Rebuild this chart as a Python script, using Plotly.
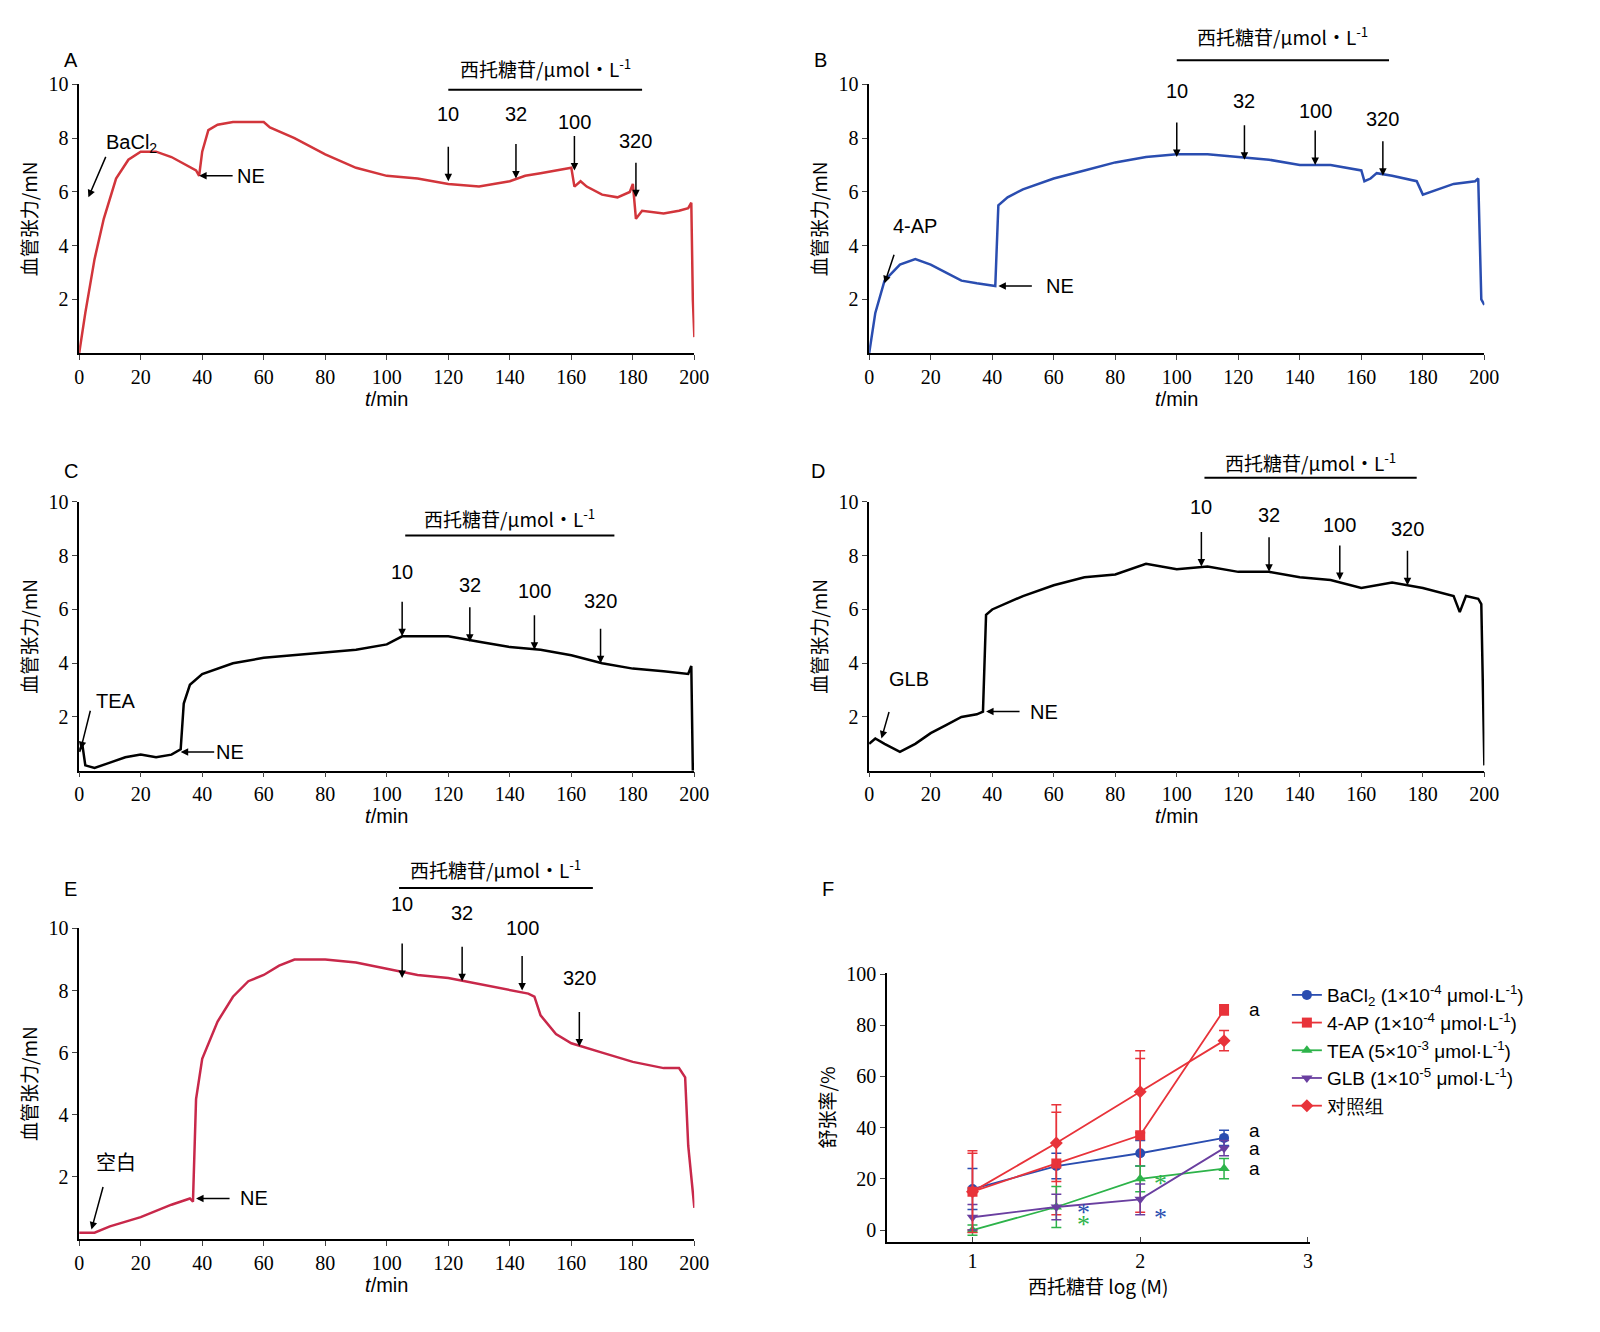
import plotly.graph_objects as go

W, H = 1600, 1332
# ---- data ----
tA = [0,2,5,8,12,16,20,25,30,35,38,39,40,42,45,50,55,60,62,70,80,90,100,110,120,130,140,145,150,155,160,161,163,165,170,175,179,180,181,183,190,195,198,199,199.5,200]
yA = [0,1.5,3.5,5,6.5,7.2,7.5,7.5,7.3,7.0,6.8,6.6,7.5,8.3,8.5,8.6,8.6,8.6,8.4,8.0,7.4,6.9,6.6,6.5,6.3,6.2,6.4,6.6,6.7,6.8,6.9,6.2,6.4,6.2,5.9,5.8,6.0,6.3,5.0,5.3,5.2,5.3,5.4,5.6,2.0,0.6]
tB = [0,2,5,10,15,20,25,30,35,40,41,42,45,50,60,70,80,90,100,110,120,130,140,150,160,161,163,165,170,178,180,185,190,197,198,199,200]
yB = [0,1.5,2.7,3.3,3.5,3.3,3.0,2.7,2.6,2.5,2.5,5.5,5.8,6.1,6.5,6.8,7.1,7.3,7.4,7.4,7.3,7.2,7.0,7.0,6.8,6.4,6.5,6.7,6.6,6.4,5.9,6.1,6.3,6.4,6.5,2.0,1.8]
tC = [0,1,2,5,10,15,20,25,30,33,34,36,40,50,60,70,80,90,100,105,110,120,130,140,150,160,170,180,190,198,199,199.5]
yC = [0.7,1.0,0.2,0.1,0.3,0.5,0.6,0.5,0.6,0.8,2.5,3.2,3.6,4.0,4.2,4.3,4.4,4.5,4.7,5.0,5.0,5.0,4.8,4.6,4.5,4.3,4.0,3.8,3.7,3.6,3.9,0]
tD = [0,2,5,10,15,20,25,30,35,37,38,40,50,60,70,80,90,100,110,120,130,140,150,160,170,180,190,192,194,198,199,200]
yD = [1.0,1.2,1.0,0.7,1.0,1.4,1.7,2.0,2.1,2.2,5.8,6.0,6.5,6.9,7.2,7.3,7.7,7.5,7.6,7.4,7.4,7.2,7.1,6.8,7.0,6.8,6.5,5.9,6.5,6.4,6.2,0.2]
tE = [0,5,10,20,30,36,37,38,40,45,50,55,60,65,70,80,90,100,110,120,130,140,146,148,150,155,160,170,180,190,195,197,198,200]
yE = [0.2,0.2,0.4,0.7,1.1,1.3,1.2,4.5,5.8,7.0,7.8,8.3,8.5,8.8,9.0,9.0,8.9,8.7,8.5,8.4,8.2,8.0,7.9,7.8,7.2,6.6,6.3,6.0,5.7,5.5,5.5,5.2,3.0,1.0]

logC = [1, 1.5, 2, 2.5]
bacl2 = [16, 25, 30, 36]; bacl2_e = [8, 5, 5, 3]
ap4 = [15, 26, 37, 86]; ap4_e = [15, 20, 30, 2]
tea = [0, 9, 20, 24]; tea_e = [2, 8, 5, 4]
glb = [5, 9, 12, 32]; glb_e = [5, 5, 6, 3]
ctrl = [15, 34, 54, 74]; ctrl_e = [16, 15, 16, 4]
doses = ["10", "32", "100", "320"]

fig = go.Figure()
SERIF = "Liberation Serif"
CJK = "Noto Sans CJK SC"

def dom(x0, x1, y0, y1):
    return [x0/W, x1/W], [1-y1/H, 1-y0/H]

panels = {
    1: dom(67, 690, 66, 337), 2: dom(867, 1490, 66, 337),
    3: dom(67, 690, 487, 758), 4: dom(867, 1490, 487, 758),
    5: dom(67, 690, 917, 1230), 6: dom(885, 1313, 962, 1233),
}
ranges = {i: ([0, 200], [0, 10]) for i in range(1, 6)}
ranges[6] = ([0.49, 3.01], [-4.6, 100.4])
key = {"": 1, "2": 2, "3": 3, "4": 4, "5": 5, "6": 6}

def to_paper(sx, x, y):
    i = key[sx]
    xd, yd = panels[i]
    xr, yr = ranges[i]
    px = xd[0] + (x - xr[0]) / (xr[1] - xr[0]) * (xd[1] - xd[0])
    py = yd[0] + (y - yr[0]) / (yr[1] - yr[0]) * (yd[1] - yd[0])
    return px, py

for i in range(1, 7):
    xd, yd = panels[i]
    sx = "" if i == 1 else str(i)
    tf = dict(family=SERIF, size=20, color="black")
    ax = dict(domain=xd, range=ranges[i][0], showline=True, linecolor="black", linewidth=1.5, ticks="outside",
              ticklen=5, tickfont=tf, showgrid=False, zeroline=False, anchor="y"+sx)
    ay = dict(domain=yd, range=ranges[i][1], showline=True, linecolor="black", linewidth=1.5, ticks="outside",
              ticklen=5, tickfont=tf, showgrid=False, zeroline=False, anchor="x"+sx)
    if i < 6:
        ax.update(tickvals=list(range(0, 201, 20)),
                  title=dict(text="<i>t</i>/min", font=dict(family="Liberation Sans", size=20, color="black"), standoff=2))
        ay.update(tickvals=[2, 4, 6, 8, 10],
                  title=dict(text="血管张力/mN", font=dict(family=CJK, size=19, color="black"), standoff=6))
    else:
        ax.update(tickvals=[1, 2, 3], ticks="inside",
                  title=dict(text="西托糖苷 log (M)", font=dict(family=CJK, size=19, color="black"), standoff=8))
        ay.update(tickvals=[0, 20, 40, 60, 80, 100],
                  title=dict(text="舒张率/%", font=dict(family=CJK, size=19, color="black"), standoff=6))
    fig.layout["xaxis"+sx] = ax
    fig.layout["yaxis"+sx] = ay

cols = ["#d2353b", "#2a4db0", "black", "black", "#c8284a"]
for i, (t, y) in enumerate([(tA, yA), (tB, yB), (tC, yC), (tD, yD), (tE, yE)], start=1):
    sx = "" if i == 1 else str(i)
    fig.add_trace(go.Scatter(x=t, y=y, mode="lines", line=dict(color=cols[i-1], width=2.5),
                             xaxis="x"+sx, yaxis="y"+sx, showlegend=False))

anns = []
shapes = []
def arrow(sx, x, y, ax_, ay_):
    anns.append(dict(xref="x"+sx, yref="y"+sx, x=x, y=y, ax=ax_, ay=ay_, axref="pixel", ayref="pixel",
                     text="", showarrow=True, arrowhead=2, arrowsize=1, arrowwidth=1.5,
                     arrowcolor="black", standoff=0))
def txt(sx, x, y, text, size=20, font="Liberation Sans", color="black"):
    px, py = to_paper(sx, x, y)
    anns.append(dict(xref="paper", yref="paper", x=px, y=py, text=text, showarrow=False,
                     xanchor="center", yanchor="middle", font=dict(family=font, size=size, color=color)))

dose_info = [
    ("", [120, 142, 161, 181], [6.4, 6.5, 6.8, 5.8], [8.9, 8.9, 8.6, 7.9], 120, 183, 9.8, 10.6),
    ("2", [100, 122, 145, 167], [7.3, 7.2, 7.0, 6.6], [9.75, 9.4, 9.0, 8.7], 100, 169, 10.9, 11.8),
    ("3", [105, 127, 148, 169.5], [5.0, 4.8, 4.5, 4.0], [7.4, 6.9, 6.7, 6.3], 106, 174, 8.75, 9.4),
    ("4", [108, 130, 153, 175], [7.6, 7.4, 7.1, 6.9], [9.8, 9.5, 9.15, 9.0], 109, 178, 10.9, 11.5),
    ("5", [105, 124.5, 144, 162.6], [8.4, 8.3, 8.0, 6.2], [10.8, 10.5, 10.0, 8.4], 104, 167, 11.3, 11.9),
]
for sx, ts, tips, labs, b0, b1, by, ty in dose_info:
    for t, tip, lab, d in zip(ts, tips, labs, doses):
        arrow(sx, t, tip, 0, -36)
        txt(sx, t, lab, d)
    x0, y0 = to_paper(sx, b0, by)
    x1, _ = to_paper(sx, b1, by)
    shapes.append(dict(type="line", xref="paper", yref="paper", x0=x0, x1=x1, y0=y0, y1=y0,
                       line=dict(color="black", width=2)))
    txt(sx, (b0+b1)/2, ty, "西托糖苷/μmol·L<sup>-1</sup>", size=19, font=CJK)

arrow("", 3, 5.8, 18, -42); txt("", 17, 7.8, "BaCl<sub>2</sub>")
arrow("", 39, 6.6, 35, 0); txt("", 56, 6.6, "NE")
arrow("2", 5, 2.6, 10, -30); txt("2", 15, 4.75, "4-AP")
arrow("2", 42, 2.5, 35, 0); txt("2", 62, 2.5, "NE")
arrow("3", 0.5, 0.8, 10, -40); txt("3", 12, 2.6, "TEA")
arrow("3", 33, 0.7, 35, 0); txt("3", 49, 0.7, "NE")
arrow("4", 4, 1.2, 8, -28); txt("4", 13, 3.4, "GLB")
arrow("4", 38, 2.2, 35, 0); txt("4", 57, 2.2, "NE")
arrow("5", 4, 0.3, 12, -44); txt("5", 12, 2.5, "空白", font=CJK)
arrow("5", 38, 1.3, 35, 0); txt("5", 57, 1.3, "NE")

for L, x, y in [("A", 50, 28), ("B", 818, 28), ("C", 50, 443), ("D", 815, 443), ("E", 50, 877), ("F", 825, 877)]:
    anns.append(dict(xref="paper", yref="paper", x=x/W, y=1-y/H, text=L, showarrow=False,
                     font=dict(family="Liberation Sans", size=20, color="black")))

fser = [
    ("BaCl<sub>2</sub> (1×10<sup>-4</sup> μmol·L<sup>-1</sup>)", bacl2, bacl2_e, "#2a4db0", "circle"),
    ("4-AP (1×10<sup>-4</sup> μmol·L<sup>-1</sup>)", ap4, ap4_e, "#e8333a", "square"),
    ("TEA (5×10<sup>-3</sup> μmol·L<sup>-1</sup>)", tea, tea_e, "#2db34a", "triangle-up"),
    ("GLB (1×10<sup>-5</sup> μmol·L<sup>-1</sup>)", glb, glb_e, "#6a3fa0", "triangle-down"),
    ("对照组", ctrl, ctrl_e, "#e8333a", "diamond"),
]
for name, v, e, c, sym in fser:
    fig.add_trace(go.Scatter(x=logC, y=v, error_y=dict(type="data", array=e, color=c, thickness=1.5, width=5),
                             mode="lines+markers", name=name, line=dict(color=c, width=1.8),
                             marker=dict(symbol=sym, size=10, color=c), xaxis="x6", yaxis="y6"))
for y in [86, 39, 32, 24]:
    txt("6", 2.68, y, "a", size=19)
for x, y, c in [(1.66, 7, "#2a4db0"), (2.12, 5, "#2a4db0"), (1.66, 2, "#2db34a"), (2.12, 18, "#2db34a")]:
    txt("6", x, y, "*", size=26, font=SERIF, color=c)

fig.update_layout(width=W, height=H, margin=dict(l=0, r=0, t=0, b=0), plot_bgcolor="white",
                  paper_bgcolor="white", annotations=anns, shapes=shapes,
                  legend=dict(x=1290/W, y=1-965/H, xanchor="left", yanchor="top",
                              font=dict(family="Liberation Sans", size=19, color="black"),
                              tracegroupgap=2, itemwidth=30))
fig.write_html("out.html")
